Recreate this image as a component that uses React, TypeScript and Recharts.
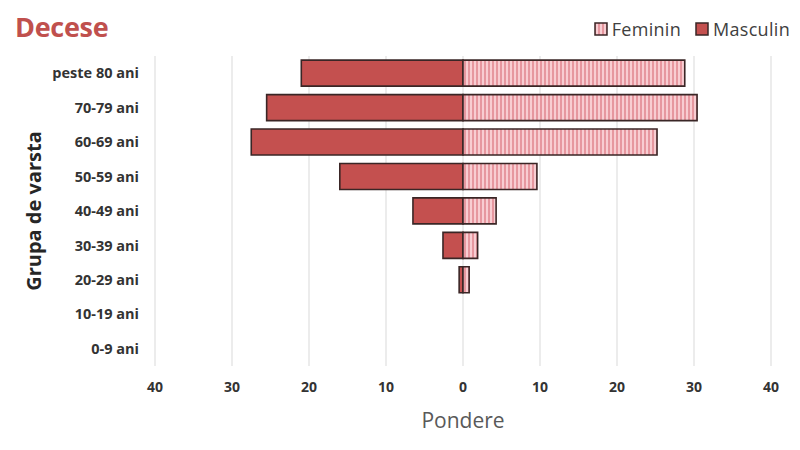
import { BarChart, Bar, XAxis, YAxis, CartesianGrid, Label } from 'recharts'

const ageGroups = ['peste 80 ani', '70-79 ani', '60-69 ani', '50-59 ani', '40-49 ani', '30-39 ani', '20-29 ani', '10-19 ani', '0-9 ani']
const feminin = [28.8, 30.4, 25.2, 9.6, 4.3, 1.9, 0.8, 0, 0]
const masculin = [21.0, 25.5, 27.5, 16.0, 6.5, 2.6, 0.5, 0, 0]
const xTicks = [-40, -30, -20, -10, 0, 10, 20, 30, 40]

// barbatii spre stanga (valori negative), femeile spre dreapta
const data = ageGroups.map((g, i) => ({ group: g, feminin: feminin[i], masculin: -masculin[i] }))

const FONT = '"Open Sans", sans-serif'
const MALE = '#C4504F'
const BORDER = '#3a2626'

function Stripes({ id }: { id: string }) {
  return (
    <pattern id={id} width={4} height={4} patternUnits="userSpaceOnUse">
      <rect width={4} height={4} fill="#f8cdd2" />
      <rect width={2} height={4} fill="#e6979f" />
    </pattern>
  )
}

function YTitle(props: any) {
  const vb = props.viewBox || {}
  const x = vb.x + 33
  const y = vb.y + vb.height / 2
  return (
    <text x={x} y={y} transform={`rotate(-90, ${x}, ${y})`} textAnchor="middle" dominantBaseline="central"
      fontFamily={FONT} fontWeight={700} fontSize={20} fill="#262626">
      Grupa de varsta
    </text>
  )
}

function LegendItem({ label, fill }: { label: string; fill: string }) {
  return (
    <span style={{ display: 'inline-flex', alignItems: 'center', marginLeft: 14 }}>
      <svg width={14} height={14} style={{ marginRight: 4 }}>
        <defs>
          <Stripes id={'lg' + label} />
        </defs>
        <rect x={1} y={1} width={12} height={12} fill={fill === 'pattern' ? `url(#lg${label})` : fill} stroke={BORDER} strokeWidth={1.5} />
      </svg>
      {label}
    </span>
  )
}

export default function App() {
  return (
    <div style={{ position: 'absolute', left: 0, top: 0, width: 800, height: 450, background: '#fff', fontFamily: FONT }}>
      <div style={{ position: 'absolute', left: 15, top: 8, fontSize: 27, fontWeight: 700, color: '#C0504D', letterSpacing: -0.3 }}>
        Decese
      </div>
      <div style={{ position: 'absolute', right: 10, top: 17, fontSize: 18, color: '#404040', display: 'flex', letterSpacing: 0.3 }}>
        <LegendItem label="Feminin" fill="pattern" />
        <LegendItem label="Masculin" fill={MALE} />
      </div>
      <BarChart width={800} height={450} data={data} layout="vertical" stackOffset="sign"
        barCategoryGap="12%" margin={{ top: 56, right: 29, bottom: 22, left: 0 }}>
        <defs>
          <Stripes id="femStripes" />
        </defs>
        <CartesianGrid horizontal={false} stroke="#d9d9d9" />
        <XAxis type="number" domain={[-40, 40]} ticks={xTicks} tickFormatter={(v) => String(Math.abs(v))}
          axisLine={false} tickLine={false} tickMargin={10} height={62}
          tick={{ fontSize: 14, fontWeight: 700, fill: '#333', fontFamily: FONT }}>
          <Label value="Pondere" position="insideBottom" offset={0} fill="#595959" fontSize={21} fontFamily={FONT} />
        </XAxis>
        <YAxis type="category" dataKey="group" width={155} axisLine={false} tickLine={false} tickMargin={10}
          tick={{ fontSize: 14.5, fontWeight: 700, fill: '#333', fontFamily: FONT }} interval={0}>
          <Label content={<YTitle />} />
        </YAxis>
        <Bar dataKey="masculin" stackId="a" fill={MALE} stroke={BORDER} strokeWidth={1.6} isAnimationActive={false} />
        <Bar dataKey="feminin" stackId="a" fill="url(#femStripes)" stroke={BORDER} strokeWidth={1.6} isAnimationActive={false} />
      </BarChart>
    </div>
  )
}
